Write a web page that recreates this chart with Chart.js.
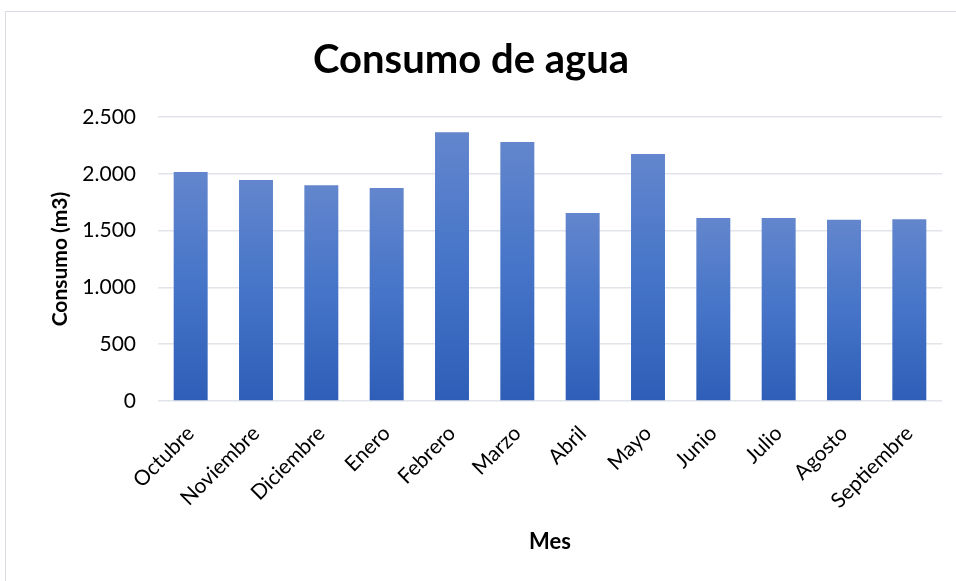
<!DOCTYPE html>
<html>
<head>
<meta charset="utf-8">
<script src="https://cdn.jsdelivr.net/npm/chart.js@4"></script>
<style>
  html, body { margin: 0; padding: 0; background: #fff; overflow: hidden; }
  #frame {
    position: absolute; left: 5px; top: 11px;
    width: 1000px; height: 620px;
    border-left: 1px solid #d9dde3; border-top: 1px solid #d9dde3;
  }
  #wrap { position: absolute; left: 0; top: 0; width: 956px; height: 581px; }
</style>
</head>
<body>
<div id="frame"></div>
<div id="wrap"><canvas id="chart"></canvas></div>
<script>
// Datos
const meses = ['Octubre', 'Noviembre', 'Diciembre', 'Enero', 'Febrero', 'Marzo',
  'Abril', 'Mayo', 'Junio', 'Julio', 'Agosto', 'Septiembre']
const consumo = [2015, 1945, 1900, 1875, 2365, 2280, 1655, 2175, 1610, 1610, 1595, 1600]
const ticksY = [0, 500, 1000, 1500, 2000, 2500]

const fuente = 'Lato, "Open Sans", sans-serif'

// Punto como separador de miles (2.500)
function formatoMiles(v) {
  return String(v).replace(/\B(?=(\d{3})+(?!\d))/g, '.')
}

// Degradado por barra: claro arriba, oscuro abajo
function degradado(ctx) {
  const chart = ctx.chart
  if (!chart.chartArea || ctx.type !== 'data') return '#4472c4'
  const y = chart.scales.y
  const top = y.getPixelForValue(ctx.raw)
  const bottom = y.getPixelForValue(0)
  const g = chart.ctx.createLinearGradient(0, top, 0, bottom)
  g.addColorStop(0, '#6386cd')
  g.addColorStop(0.5, '#4574c8')
  g.addColorStop(1, '#2e5eb7')
  return g
}

new Chart(document.getElementById('chart'), {
  type: 'bar',
  data: {
    labels: meses,
    datasets: [{
      label: 'Consumo',
      data: consumo,
      backgroundColor: degradado,
      borderWidth: 0,
      categoryPercentage: 1,
      barPercentage: 0.52
    }]
  },
  options: {
    responsive: true,
    maintainAspectRatio: false,
    animation: false,
    layout: { padding: { left: 0, right: 14, top: 0, bottom: 0 } },
    plugins: {
      legend: { display: false },
      tooltip: { enabled: false },
      title: {
        display: true,
        text: 'Consumo de agua',
        color: '#000',
        font: { family: fuente, size: 40, weight: 'bold' },
        padding: { top: 36, bottom: 33 }
      }
    },
    scales: {
      x: {
        afterFit: (axis) => { axis.height = 180 },
        grid: { display: false },
        border: { display: false },
        ticks: {
          color: '#000',
          font: { family: fuente, size: 21 },
          minRotation: 45,
          maxRotation: 45,
          padding: 12
        },
        title: {
          display: true,
          text: 'Mes',
          color: '#000',
          font: { family: fuente, size: 22, weight: 'bold' },
          padding: { bottom: 26 }
        }
      },
      y: {
        min: 0,
        max: 2500,
        afterFit: (axis) => { axis.width = 158 },
        afterBuildTicks: (axis) => { axis.ticks = ticksY.map(v => ({ value: v })) },
        grid: { color: '#e1e4e9', lineWidth: 1.5, drawTicks: false },
        border: { display: false },
        ticks: {
          color: '#000',
          font: { family: fuente, size: 21 },
          padding: 22,
          callback: (v) => formatoMiles(v)
        },
        title: {
          display: true,
          text: 'Consumo (m3)',
          color: '#000',
          font: { family: fuente, size: 21, weight: 'bold' },
          padding: { top: 48 }
        }
      }
    }
  }
})
</script>
</body>
</html>
